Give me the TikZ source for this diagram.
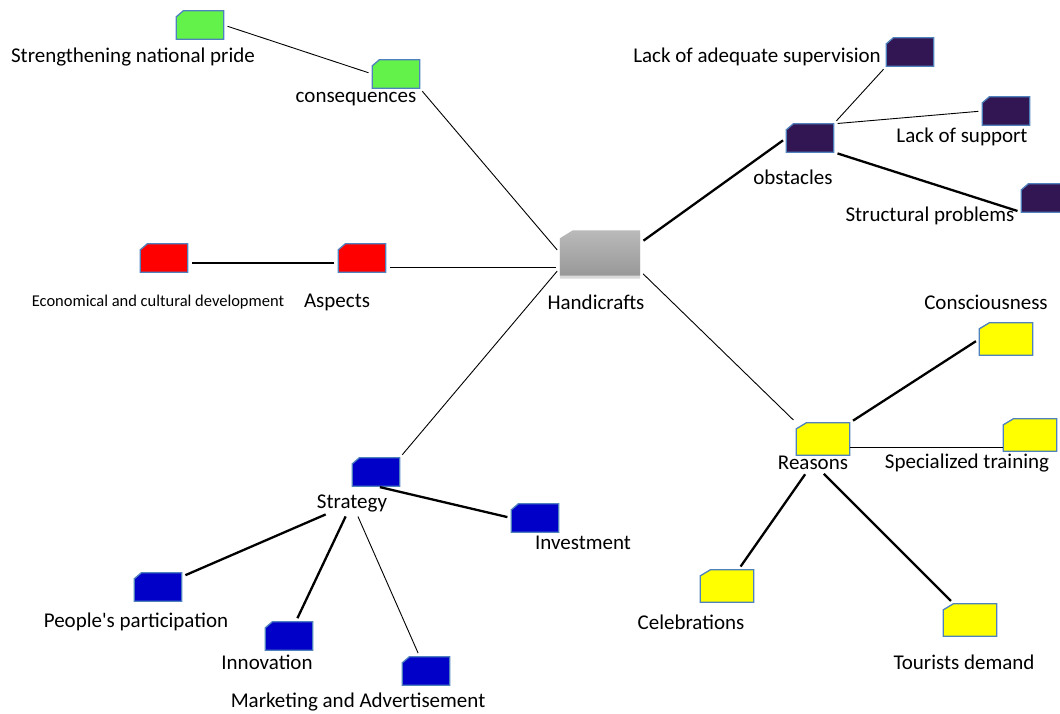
\documentclass[tikz,border=0pt]{standalone}
\usepackage{fontspec}
\setmainfont{Carlito}
\usetikzlibrary{shadows}
\definecolor{tabline}{RGB}{79,129,189}
\definecolor{cgreen}{RGB}{99,242,73}
\definecolor{cpurple}{RGB}{50,22,84}
\definecolor{cred}{RGB}{255,0,0}
\definecolor{cyellow}{RGB}{255,255,0}
\definecolor{cblue}{RGB}{0,0,200}
\definecolor{hubtop}{RGB}{186,186,186}
\definecolor{hubbot}{RGB}{152,152,152}
\tikzset{
  slot/.style={rectangle, minimum width=47pt, minimum height=28pt, inner sep=0pt},
  bigslot/.style={slot, minimum width=53pt, minimum height=32pt},
  tabline/.style={fill=#1, draw=tabline, line width=1.3pt},
  lbl/.style={font=\fontsize{21}{24}\selectfont, inner sep=1pt},
  small/.style={font=\fontsize{16.5}{19}\selectfont, inner sep=1pt},
  lite/.style={line width=0.9pt, shorten >=4pt, shorten <=4pt},
  heavy/.style={line width=2.3pt, shorten >=4pt, shorten <=4pt}
}
\begin{document}
\begin{tikzpicture}[x=1pt,y=-1pt]
  \useasboundingbox (0,0) rectangle (1060,713);
  \clip (0,0) rectangle (1060,713);
  % centre
  \node[slot, minimum width=80pt, minimum height=45pt] (hand) at (600,253) {};
  \path[top color=hubtop, bottom color=hubbot,
        drop shadow={shadow xshift=0pt, shadow yshift=-3pt, opacity=0.3}]
    (hand.south west) -- ([yshift=-8pt]hand.north west) -- ([xshift=13pt]hand.north west)
    -- (hand.north east) -- (hand.south east) -- cycle;
  % boxes
  \foreach \n/\x/\y/\c in {cons/396/74/cgreen, pride/200/25/cgreen,
      superv/910/52/cpurple, obst/810/138/cpurple, support/1006/111/cpurple, struct/1045/198/cpurple,
      aspects/362/258/cred, econ/164/258/cred,
      strat/376/472/cblue, invest/535/518/cblue, people/158/587/cblue, innov/289/636/cblue, market/426/671/cblue}{
    \node[slot] (\n) at (\x,\y) {};
    \draw[tabline=\c] (\n.south west) -- ([yshift=-6pt]\n.north west) -- ([xshift=7pt]\n.north west)
      -- (\n.north east) -- (\n.south east) -- cycle;
  }
  \foreach \n/\x/\y in {consc/1006/339, reasons/823/439, training/1030/435, celeb/727/586, tourist/970/620}{
    \node[bigslot] (\n) at (\x,\y) {};
    \draw[tabline=cyellow] (\n.south west) -- ([yshift=-6pt]\n.north west) -- ([xshift=10pt]\n.north west)
      -- (\n.north east) -- (\n.south east) -- cycle;
  }
  % labels
  \foreach \n/\x/\y/\t in {handl/596/302/Handicrafts, consl/356/99/consequences,
      pridel/133/57/Strengthening national pride, supervl/757/57/Lack of adequate supervision,
      obstl/793/177/obstacles, supportl/962/137/Lack of support, structl/930/216/Structural problems,
      aspectsl/337/302/Aspects, conscl/986/302/Consciousness, reasonsl/813/463/Reasons,
      trainingl/967/463/Specialized training, celebl/691/622/Celebrations, touristl/964/662/Tourists demand,
      stratl/352/503/Strategy, investl/583/543/Investment, peoplel/136/622/People\textquotesingle s participation,
      innovl/267/662/Innovation, marketl/358/702/Marketing and Advertisement}
    \node[lbl] (\n) at (\x,\y) {\t};
  \node[small] (econl) at (158,302) {Economical and cultural development};
  % connectors
  \draw[lite] (hand.west) -- (cons.south east);
  \draw[lite] (cons.west) -- (pride.east);
  \draw[heavy] ([yshift=10pt]hand.east) -- (obst.west);
  \draw[lite] (obst.north east) -- (superv.south west);
  \draw[lite] (obst.north east) -- (support.west);
  \draw[heavy] (obst.south east) -- (struct.south west);
  \draw[lite] ([yshift=-14pt]hand.west) -- ([yshift=-9pt]aspects.east);
  \draw[heavy] ([yshift=-5pt]aspects.west) -- ([yshift=-5pt]econ.east);
  \draw[lite] ([yshift=-18pt]hand.east) -- (reasons.north west);
  \draw[heavy] (reasons.north east) -- (consc.west);
  \draw[lite, shorten >=0pt, shorten <=0pt] ([yshift=-8pt]reasons.east) -- ([yshift=-12pt]training.west);
  \draw[heavy] (reasonsl) -- (celeb);
  \draw[heavy] (reasonsl) -- (tourist);
  \draw[lite] ([yshift=-15pt]hand.west) -- (strat.north east);
  \draw[heavy] (strat.south) -- (invest.west);
  \draw[heavy] (stratl) -- (people);
  \draw[heavy] (stratl) -- (innov);
  \draw[lite] (stratl) -- (market);
\end{tikzpicture}
\end{document}
